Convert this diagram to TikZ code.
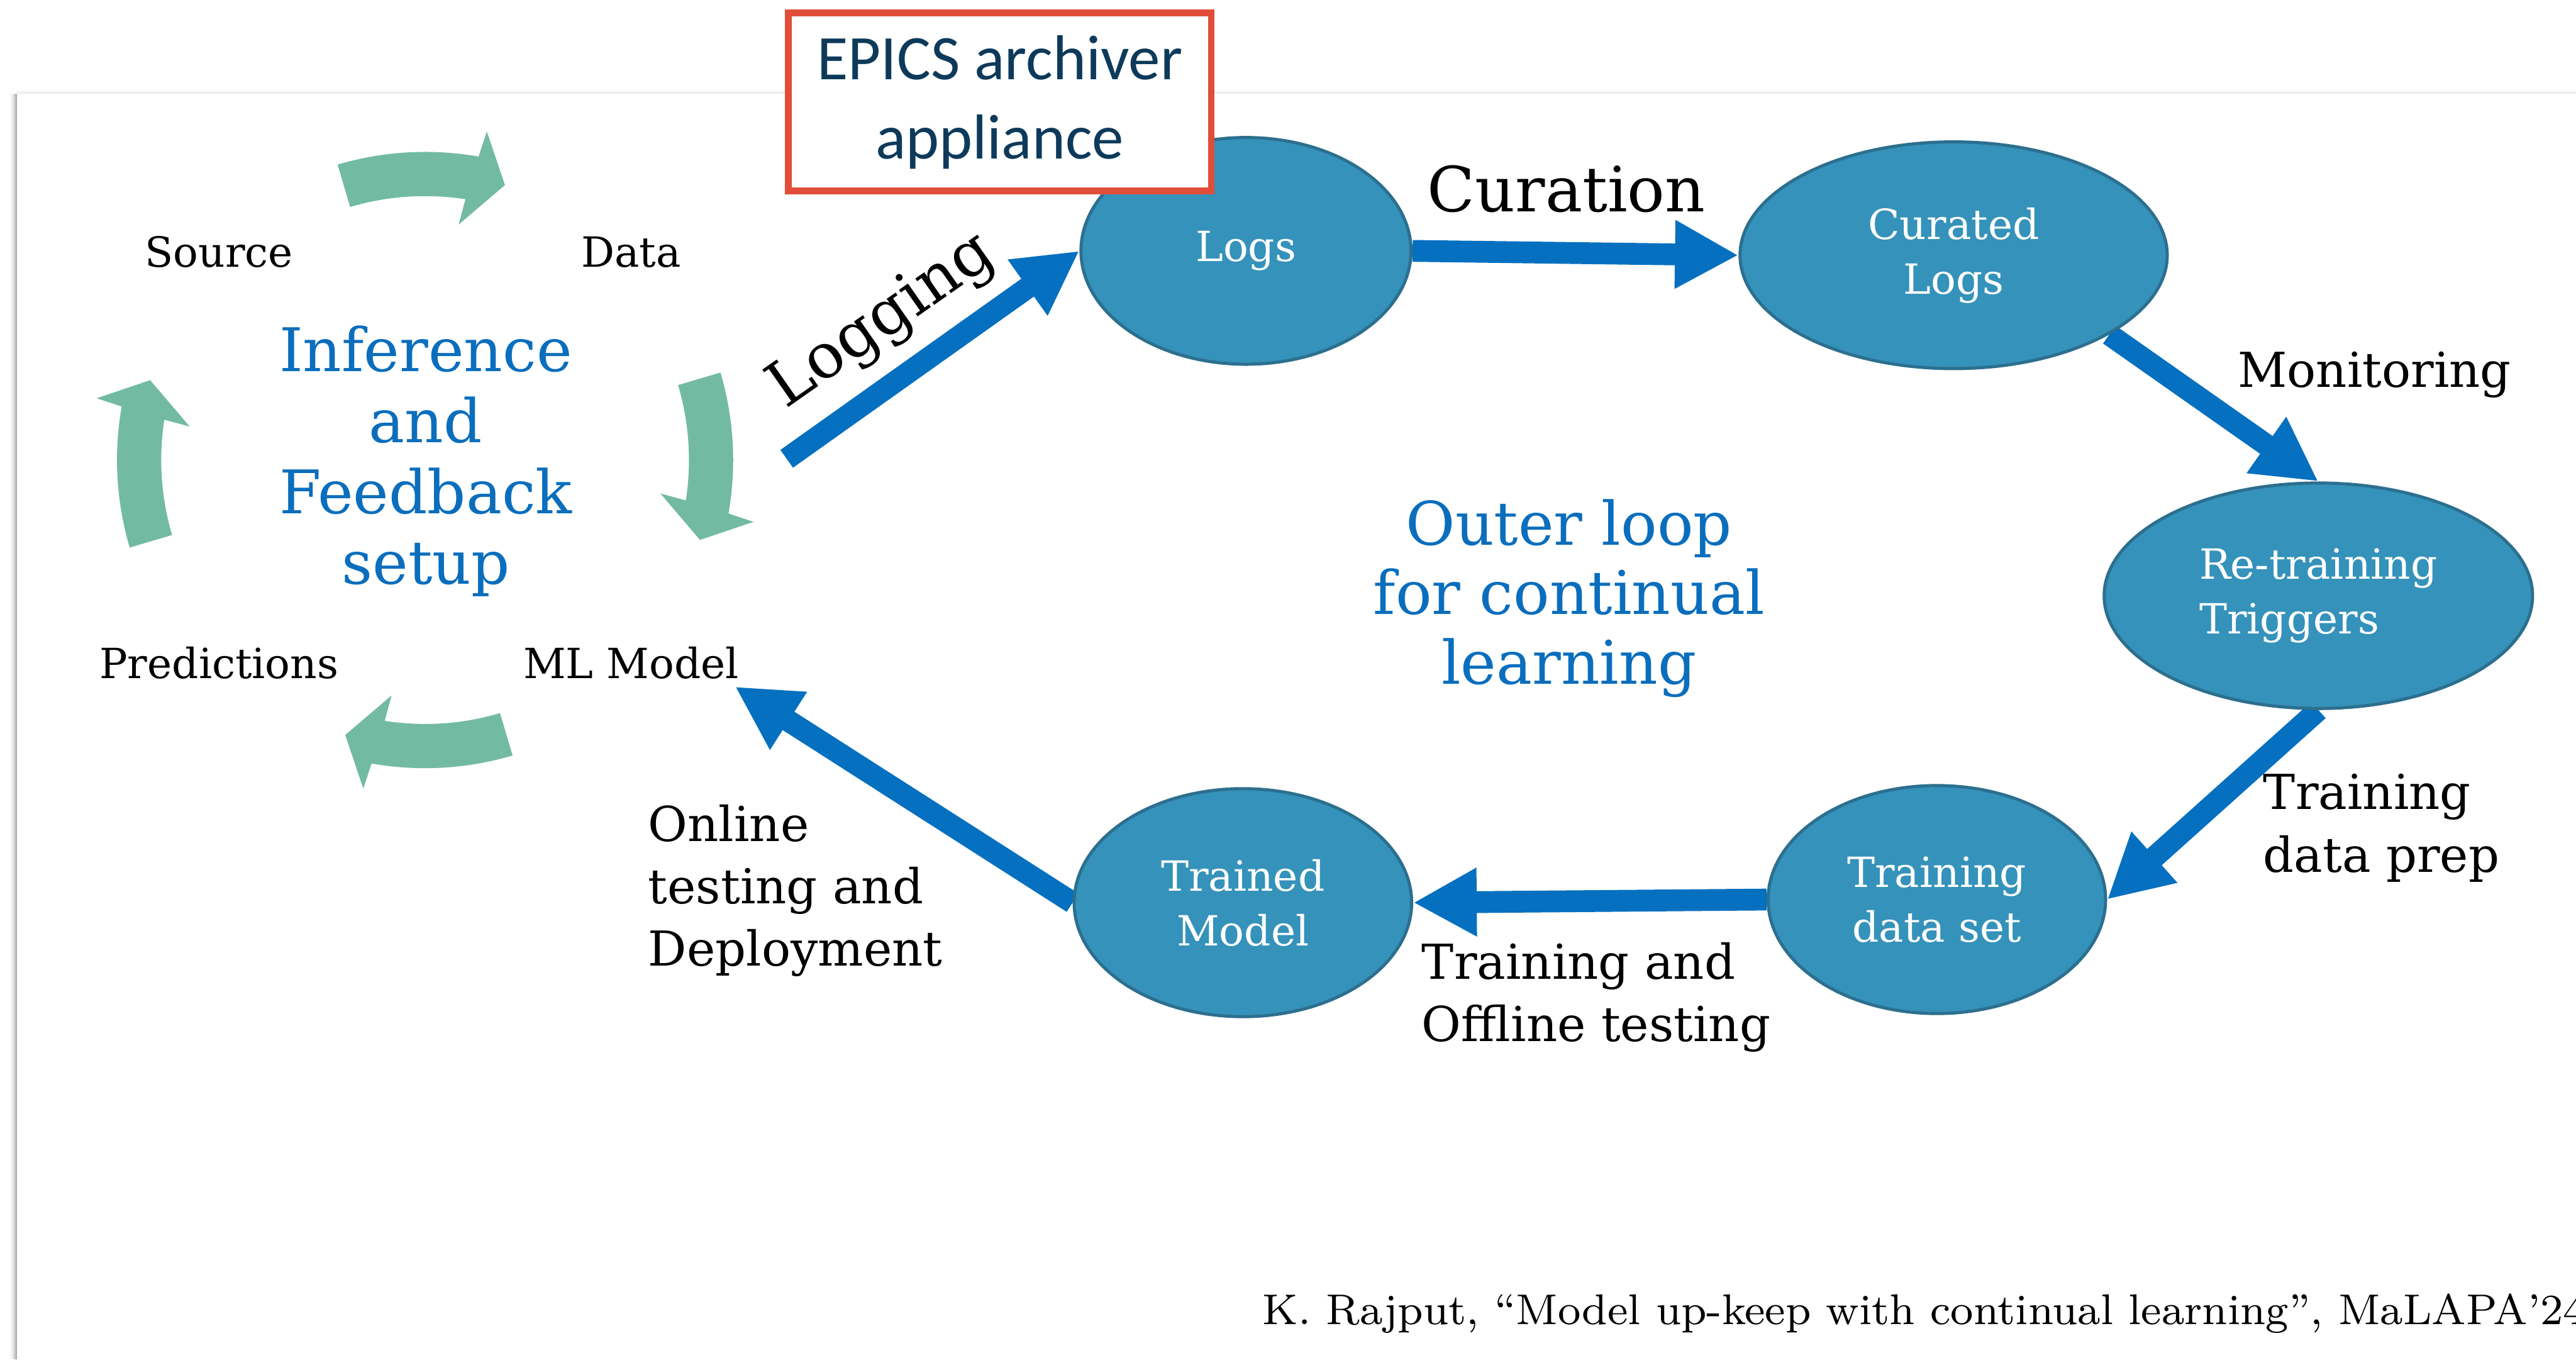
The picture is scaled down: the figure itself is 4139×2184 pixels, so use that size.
\documentclass[tikz,border=0pt]{standalone}
\usepackage{fontspec}
\newfontfamily\diafont{DejaVu Serif}
\newfontfamily\epicsfont{Carlito}
\usetikzlibrary{arrows.meta,shapes.geometric,calc}
\pgfdeclarelayer{background}
\pgfsetlayers{background,main}
\definecolor{flowblue}{HTML}{0570C0}
\definecolor{txtblue}{HTML}{0A6EBD}
\definecolor{ellfill}{HTML}{3592BA}
\definecolor{elldraw}{HTML}{2C6F8F}
\definecolor{epicsred}{HTML}{E04E39}
\definecolor{epicstext}{HTML}{0D3A5A}
\definecolor{cyclegreen}{HTML}{72BBA2}
\begin{document}
\begin{tikzpicture}[x=0.01cm,y=-0.01cm,
  stage/.style={ellipse, fill=ellfill, draw=elldraw, line width=0.05cm, inner sep=0pt,
    text=white, align=center, font=\diafont\fontsize{19pt}{25pt}\selectfont},
  flow/.style={draw=flowblue, line width=0.35cm, -{Triangle[length=1.02cm,width=1.03cm]}},
  cyclelbl/.style={inner sep=0pt, anchor=base, font=\diafont\fontsize{19pt}{25pt}\selectfont},
  biglbl/.style={inner sep=0pt, font=\diafont\fontsize{28.5pt}{34pt}\selectfont},
  midlbl/.style={inner sep=0pt, align=left, font=\diafont\fontsize{22pt}{28.5pt}\selectfont},
  bluetitle/.style={inner sep=0pt, align=center, text=txtblue}
]
\useasboundingbox (0,0) rectangle (4139,2184);
% slide shadow
\foreach \d/\o in {0/0.32,2/0.22,4/0.14,6/0.08,8/0.04,10/0.015}{
  \fill[black,opacity=\o] (25-\d,151) rectangle (27-\d,2184);
}
\foreach \d/\o in {0/0.07,2/0.045,4/0.025,6/0.01}{
  \fill[black,opacity=\o] (27,149-\d) rectangle (4139,151-\d);
}

% inner cycle
\coordinate (cyc) at (683,739);
\foreach \k in {90,0,-90,180}{
  \pgfmathsetmacro\angT{-(\k+16.5)}
  \pgfmathsetmacro\angBO{-(\k-10.0)}
  \pgfmathsetmacro\angHO{-(\k-10.65)}
  \pgfmathsetmacro\angTip{-(\k-16.2)}
  \pgfmathsetmacro\angHI{-(\k-8.1)}
  \pgfmathsetmacro\angBI{-(\k-8.8)}
  \fill[cyclegreen] ($(cyc)+(\angT:424)$) -- ($(cyc)+(\angT:495)$)
    arc[start angle=\angT, end angle=\angBO, radius=495]
    -- ($(cyc)+(\angHO:537)$) -- ($(cyc)+(\angTip:460)$) -- ($(cyc)+(\angHI:382)$)
    -- ($(cyc)+(\angBI:424)$)
    arc[start angle=\angBI, end angle=\angT, radius=424] -- cycle;
}
\node[cyclelbl] (src) at (352,429) {Source};
\node[cyclelbl] (dat) at (1014,429) {Data};
\node[cyclelbl] (pred) at (352,1090) {Predictions};
\node[cyclelbl] (mlm) at (1014,1090) {ML Model};
\node[bluetitle, font=\diafont\fontsize{27.5pt}{32.4pt}\selectfont] (inf) at (684,741) {Inference\\and\\Feedback\\setup};

% outer loop stages
\node[stage, minimum width=5.30cm, minimum height=3.64cm] (logs) at (2002,403) {Logs};
\node[stage, minimum width=6.86cm, minimum height=3.64cm] (cl) at (3139,410) {Curated\\Logs};
\node[stage, minimum width=6.88cm, minimum height=3.62cm, align=left] (rt) at (3725,957) {Re-training\\Triggers};
\node[stage, minimum width=5.42cm, minimum height=3.66cm] (tds) at (3112,1445) {Training\\data set};
\node[stage, minimum width=5.42cm, minimum height=3.66cm] (tm) at (1997,1450) {Trained\\Model};

\node[draw=epicsred, line width=0.11cm, fill=white, minimum width=6.79cm, minimum height=2.86cm,
  inner sep=0pt, align=center, text=epicstext, font=\epicsfont\fontsize{29pt}{36.1pt}\selectfont]
  (epics) at (1606.5,164) {EPICS archiver\\appliance};

\node[bluetitle, font=\diafont\fontsize{27.5pt}{31.7pt}\selectfont] (outer) at (2521,961) {Outer loop\\for continual\\learning};

% connectors
\coordinate (logtail) at (1264,737);
\coordinate (mltip) at (1181,1103);
\begin{pgfonlayer}{background}
\draw[flow] (logtail) -- (logs.west);
\draw[flow] (logs.east) -- (cl.west);
\draw[flow] (cl.-27) -- (rt.north);
\draw[flow] (rt.south) -- (tds.east);
\draw[flow] (tds.west) -- (tm.east);
\draw[flow] (tm.west) -- (mltip);
\end{pgfonlayer}

% arrow labels
\node[biglbl, rotate=35] (lgl) at (1418,517) {Logging};
\node[biglbl, anchor=base west] (cur) at (2293,340) {Curation};
\node[midlbl, anchor=base west] (mon) at (3595,622) {Monitoring};
\node[midlbl, anchor=west] (tdp) at (3636,1330) {Training\\data prep};
\node[midlbl, anchor=west] (tot) at (2284,1602) {Training and\\Offline testing};
\node[midlbl, anchor=west] (otd) at (1041,1431) {Online\\testing and\\Deployment};

% footer
\begin{scope}
\clip (0,0) rectangle (4139,2184);
\node[anchor=base west, inner sep=0pt, scale=2.46] (cite) at (2027,2128) {\footnotesize K. Rajput, “Model up-keep with continual learning”, MaLAPA’24};
\end{scope}
\end{tikzpicture}
\end{document}
